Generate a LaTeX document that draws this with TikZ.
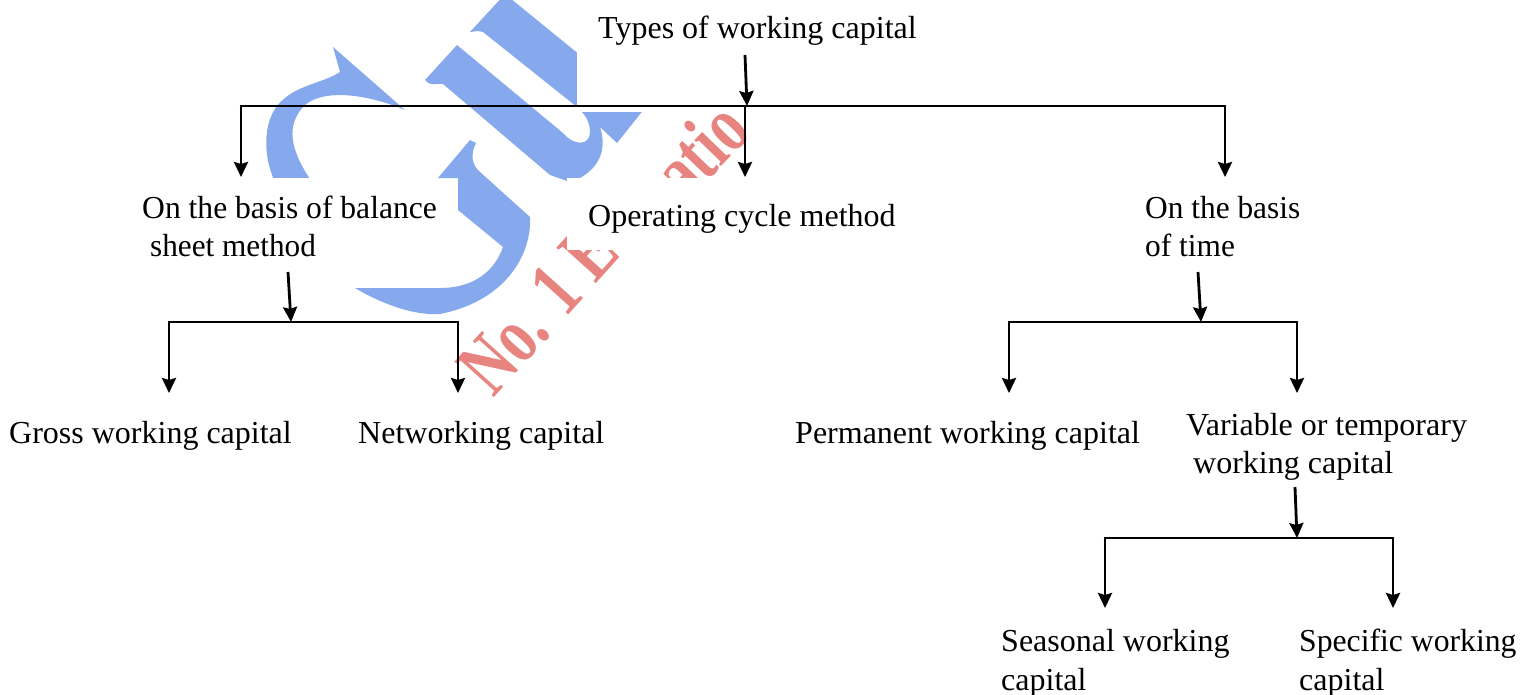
\documentclass[tikz,border=0pt]{standalone}
\usepackage{fontspec}
\setmainfont{Liberation Serif}
\usetikzlibrary{arrows.meta}
\definecolor{wmblue}{HTML}{86A9EE}
\definecolor{wmred}{HTML}{E8847F}
\tikzset{
  lab/.style={anchor=base west,inner sep=0pt,font=\fontsize{32}{38}\selectfont,text=black},
  wmt/.style={anchor=base west,inner sep=0pt,text=wmred,font=\fontsize{60}{60}\selectfont\bfseries,yscale=1.35},
  conn/.style={draw=black,line width=2.8pt,line join=miter},
  arr/.style={conn,-{Stealth[length=15pt,width=14pt,inset=2pt]}},
  mask/.style={fill=white,draw=none},
  wmb/.style={fill=wmblue,draw=none}
}
\begin{document}
\begin{tikzpicture}[x=1pt,y=-1pt]
\useasboundingbox (0,0) rectangle (1530,694);
% watermark
\node[rotate=48,wmt] (wma) at (493,399) {No. 1 E};
\node[rotate=46,wmt] (wmc) at (686,204) {atio};
\fill[wmb] (333,47) -- (340,72) .. controls (325,82) and (300,85) .. (285,98) .. controls (262,115) and (262,155) .. (275,182) -- (312,182) .. controls (290,150) and (285,125) .. (305,105) .. controls (325,88) and (370,95) .. (405,110) -- cycle;
\fill[wmb] (425,80) -- (457,45) -- (563,133) .. controls (575,147) and (590,145) .. (590,132) .. controls (590,122) and (585,114) .. (577,107) -- (483,32) .. controls (478,30) and (473,32) .. (470,32) -- (505,-6) -- (645,108) -- (617,143) -- (600,127) .. controls (606,145) and (603,165) .. (580,178) -- (570,182) -- (550,175) -- (443,84) .. controls (436,83) and (431,87) .. (425,80) -- cycle;
\fill[wmb] (438,178) -- (470,140) -- (476,143) .. controls (470,155) and (472,165) .. (480,172) -- (530,217) .. controls (532,250) and (510,300) .. (440,314) .. controls (410,316) and (375,300) .. (355,288) -- (440,288) .. controls (475,288) and (495,270) .. (503,247) -- (458,210) -- (458,178) -- cycle;
% white panels left by the original
\fill[mask] (130,178) rectangle (438,288);
\fill[mask] (577,-10) rectangle (1000,112);
\fill[mask] (567,178) rectangle (1000,250);
% texts
\node[lab] (types) at (598,38) {Types of working capital};
\node[lab,xscale=.987] (bal1) at (142,218) {On the basis of balance};
\node[lab,xscale=.976] (bal2) at (150,256) {sheet method};
\node[lab] (oper) at (588,226) {Operating cycle method};
\node[lab,xscale=.98] (time1) at (1145,218) {On the basis};
\node[lab,xscale=.98] (time2) at (1145,256) {of time};
\node[lab] (gross) at (9,443) {Gross working capital};
\node[lab] (net) at (358,443) {Networking capital};
\node[lab] (perm) at (795,443) {Permanent working capital};
\node[lab] (var1) at (1186,435) {Variable or temporary};
\node[lab] (var2) at (1193,473) {working capital};
\node[lab] (seas1) at (1001,651) {Seasonal working};
\node[lab] (seas2) at (1001,690) {capital};
\node[lab,xscale=.99] (spec1) at (1299,651) {Specific working};
\node[lab] (spec2) at (1299,690) {capital};
% junctions
\coordinate (t0) at (745,55); \coordinate (tj) at (747,106);
\coordinate (tl) at (241,106); \coordinate (tm) at (745,106); \coordinate (tr) at (1225,106);
\coordinate (ta) at (241,177); \coordinate (tb) at (745,177); \coordinate (tc) at (1225,177);
\coordinate (b0) at (288,272); \coordinate (bj) at (291,322);
\coordinate (bl) at (169,322); \coordinate (br) at (458,322);
\coordinate (ba) at (169,393); \coordinate (bb) at (458,393);
\coordinate (c0) at (1198,272); \coordinate (cj) at (1201,322);
\coordinate (cl) at (1009,322); \coordinate (cr) at (1297,322);
\coordinate (ca) at (1009,393); \coordinate (cb) at (1297,393);
\coordinate (d0) at (1295,487); \coordinate (dj) at (1297,538);
\coordinate (dl) at (1105,538); \coordinate (dr) at (1393,538);
\coordinate (da) at (1105,608); \coordinate (db) at (1393,608);
% connectors
\draw[arr] (t0) -- (tj);
\draw[conn] ([xshift=-1.4pt]tl) -- ([xshift=1.4pt]tr);
\draw[arr] (tl) -- (ta);
\draw[arr] (tm) -- (tb);
\draw[arr] (tr) -- (tc);
\draw[arr] (b0) -- (bj);
\draw[conn] ([xshift=-1.4pt]bl) -- ([xshift=1.4pt]br);
\draw[arr] (bl) -- (ba);
\draw[arr] (br) -- (bb);
\draw[arr] (c0) -- (cj);
\draw[conn] ([xshift=-1.4pt]cl) -- ([xshift=1.4pt]cr);
\draw[arr] (cl) -- (ca);
\draw[arr] (cr) -- (cb);
\draw[arr] (d0) -- (dj);
\draw[conn] ([xshift=-1.4pt]dl) -- ([xshift=1.4pt]dr);
\draw[arr] (dl) -- (da);
\draw[arr] (dr) -- (db);
\end{tikzpicture}
\end{document}
